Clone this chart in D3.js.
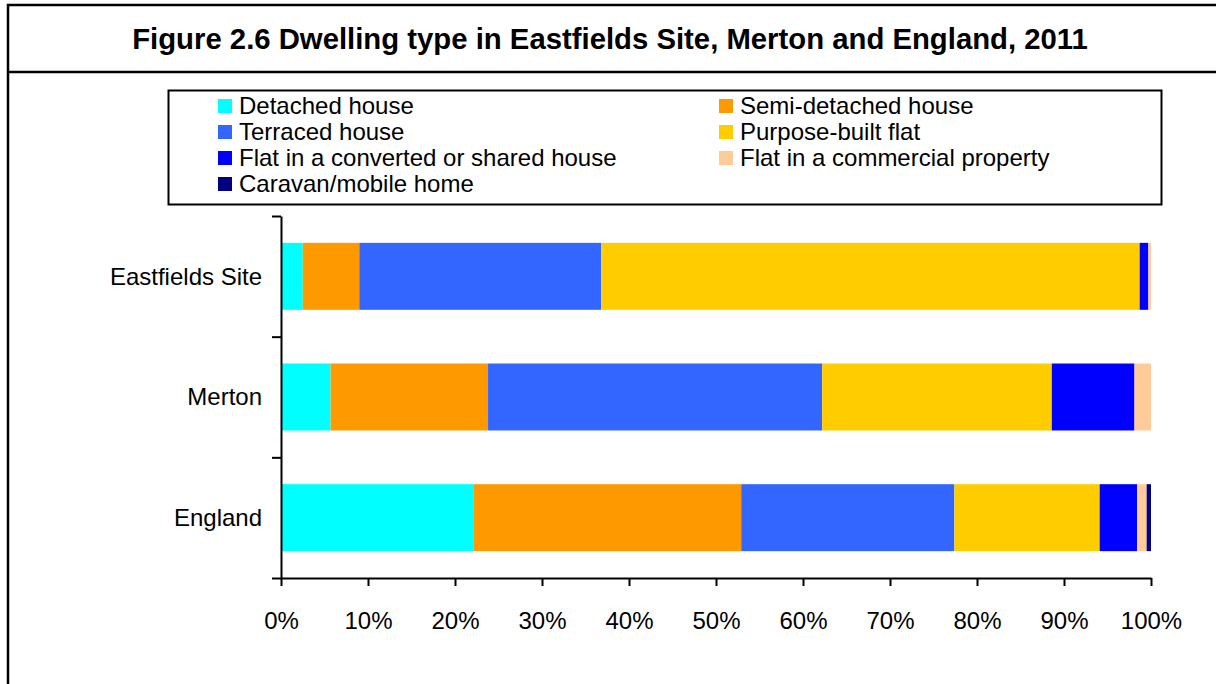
<!DOCTYPE html>
<html><head><meta charset="utf-8">
<script src="https://cdn.jsdelivr.net/npm/d3@7"></script>
<style>
html,body{margin:0;padding:0;background:#fff;overflow:hidden;}
text{font-family:"Liberation Sans",Arial,sans-serif;fill:#000;}
</style></head>
<body>
<svg id="c" width="1216" height="684"></svg>
<script>
const categories = ["Eastfields Site", "Merton", "England"];
const seriesNames = ["Detached house", "Semi-detached house", "Terraced house", "Purpose-built flat",
  "Flat in a converted or shared house", "Flat in a commercial property", "Caravan/mobile home"];
const seriesColors = ["#00FFFF", "#FF9900", "#3366FF", "#FFCC00", "#0000FF", "#FFCC99", "#000080"];
// percentages per category, in series order
const eastfieldsValues = [2.5, 6.5, 27.8, 61.9, 1.0, 0.3, 0.0];
const mertonValues     = [5.7, 18.1, 38.4, 26.4, 9.5, 1.9, 0.0];
const englandValues    = [22.1, 30.8, 24.5, 16.7, 4.3, 1.1, 0.5];
const xTicks = [0, 10, 20, 30, 40, 50, 60, 70, 80, 90, 100];
const titleText = "Figure 2.6 Dwelling type in Eastfields Site, Merton and England, 2011";

const rows = [eastfieldsValues, mertonValues, englandValues];
const table = categories.map((c, i) => {
  const o = {cat: c};
  seriesNames.forEach((s, j) => o[s] = rows[i][j]);
  return o;
});

const svg = d3.select("#c");

// frame
svg.append("path")
  .attr("d", "M8,700 L8,5 L1230,5 M8,72 L1230,72")
  .attr("fill", "none").attr("stroke", "#000").attr("stroke-width", 2.5);

svg.append("text").attr("x", 610).attr("y", 49).attr("text-anchor", "middle")
  .style("font-weight", "bold").style("font-size", "29.3px").text(titleText);

// legend
svg.append("rect").attr("x", 168.5).attr("y", 90.5).attr("width", 993).attr("height", 114)
  .attr("fill", "#fff").attr("stroke", "#000").attr("stroke-width", 2);
const legCols = [218, 719];
seriesNames.forEach((s, i) => {
  const col = i % 2, row = Math.floor(i / 2);
  const g = svg.append("g").attr("transform", `translate(${legCols[col]},${106 + row * 26})`);
  g.append("rect").attr("x", 0).attr("y", -7).attr("width", 14).attr("height", 14).attr("fill", seriesColors[i]);
  g.append("text").attr("x", 21).attr("y", 8).style("font-size", "24px").text(s);
});

// scales
const x = d3.scaleLinear().domain([0, 100]).range([281, 1151]);
const y = d3.scaleBand().domain(categories).range([216, 578]).paddingInner(0.445).paddingOuter(0.2225);
const color = d3.scaleOrdinal().domain(seriesNames).range(seriesColors);

const stack = d3.stack().keys(seriesNames);
const stacked = stack(table);

svg.append("g").selectAll("g").data(stacked).join("g")
  .attr("fill", d => color(d.key))
  .selectAll("rect").data(d => d).join("rect")
  .attr("x", d => x(d[0]))
  .attr("width", d => Math.max(0, x(d[1]) - x(d[0])))
  .attr("y", d => y(d.data.cat))
  .attr("height", y.bandwidth());

// x axis
const xAxis = svg.append("g").attr("transform", "translate(0,578)")
  .call(d3.axisBottom(x).tickValues(xTicks).tickFormat(d => d + "%").tickSize(8).tickSizeOuter(0));
xAxis.select(".domain").attr("stroke-width", 2);
xAxis.selectAll(".tick line").attr("stroke-width", 2);
xAxis.selectAll(".tick text").attr("y", 34).style("font-size", "24px").style("font-family", '"Liberation Sans",Arial,sans-serif');

// y axis: ticks at band boundaries
const yb = d3.scaleLinear().domain([0, categories.length]).range([216, 578]);
const yAxis = svg.append("g").attr("transform", "translate(281,0)")
  .call(d3.axisLeft(yb).ticks(categories.length).tickFormat("").tickSize(9).tickSizeOuter(0));
yAxis.select(".domain").attr("stroke-width", 2);
yAxis.selectAll(".tick line").attr("stroke-width", 2);

svg.append("g").selectAll("text").data(categories).join("text")
  .attr("x", 262).attr("y", d => y(d) + y.bandwidth() / 2)
  .attr("dy", "0.35em").attr("text-anchor", "end").style("font-size", "24px")
  .text(d => d);
</script>
</body></html>
